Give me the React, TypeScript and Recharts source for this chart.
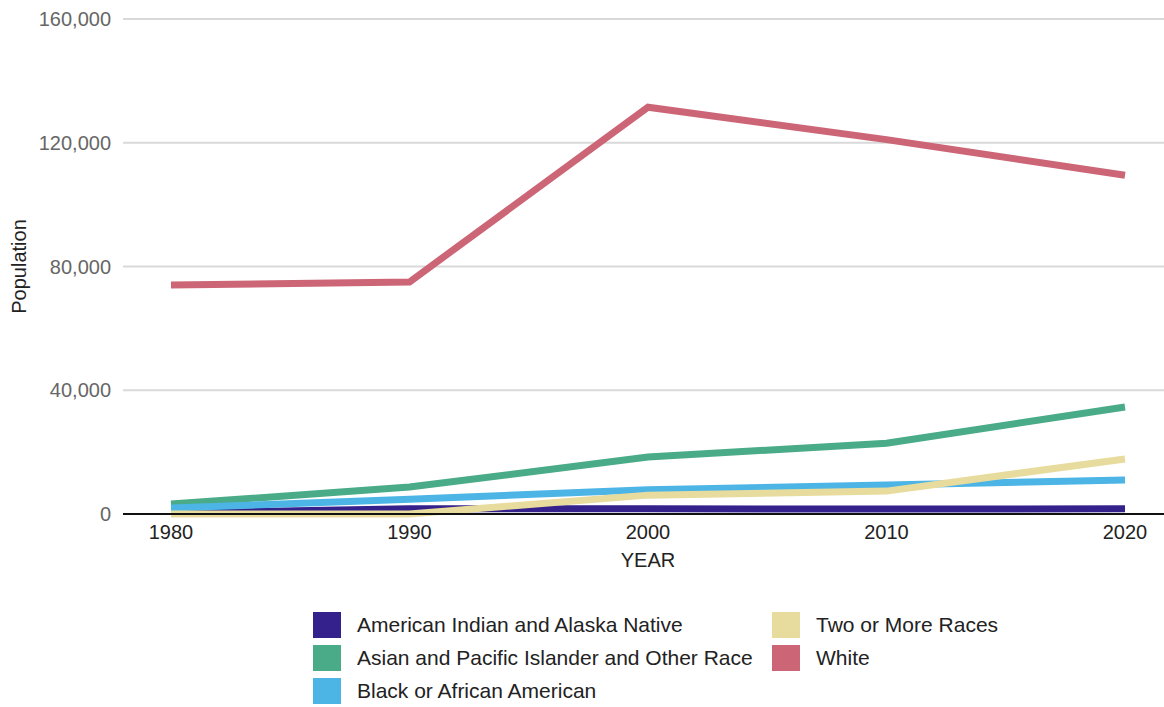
import { LineChart, Line, XAxis, YAxis, CartesianGrid } from 'recharts'

const years = ['1980', '1990', '2000', '2010', '2020']
const americanIndian = [300, 1700, 1700, 1600, 1700]
const asianPacific = [3200, 8700, 18400, 22900, 34600]
const black = [1900, 4800, 7800, 9400, 11000]
const twoOrMore = [0, 0, 6100, 7400, 17800]
const white = [74000, 75000, 131500, 121000, 109500]
const yTicks = [0, 40000, 80000, 120000, 160000]

const series = [
  { key: 'aian', name: 'American Indian and Alaska Native', color: '#35218b', values: americanIndian },
  { key: 'asian', name: 'Asian and Pacific Islander and Other Race', color: '#49ab87', values: asianPacific },
  { key: 'black', name: 'Black or African American', color: '#4cb5e6', values: black },
  { key: 'two', name: 'Two or More Races', color: '#e7dc9d', values: twoOrMore },
  { key: 'white', name: 'White', color: '#cc6677', values: white },
]

const data = years.map((year, i) => {
  const row: Record<string, string | number> = { year }
  series.forEach((s) => (row[s.key] = s.values[i]))
  return row
})

const font = '"Liberation Sans", Arial, sans-serif'

const YTitle = (props: any) => {
  const vb = props.viewBox || {}
  const cy = (vb.y ?? 19) + (vb.height ?? 495) / 2
  return (
    <text x={19} y={cy} transform={`rotate(-90, 19, ${cy})`} textAnchor="middle"
      dominantBaseline="central" fill="#222" fontSize={20} fontFamily={font}>
      Population
    </text>
  )
}

const XTitle = (props: any) => {
  const vb = props.viewBox || {}
  const cx = (vb.x ?? 123) + 48 + ((vb.width ?? 1041) - 87) / 2
  return (
    <text x={cx} y={560} textAnchor="middle" dominantBaseline="central"
      fill="#222" fontSize={20} fontFamily={font}>
      YEAR
    </text>
  )
}

export default function App() {
  return (
    <div style={{ position: 'absolute', left: 0, top: 0, width: 1164, height: 707, background: '#fff' }}>
      <LineChart width={1164} height={707} data={data} margin={{ top: 19, right: 0, bottom: 133, left: 0 }}>
        <CartesianGrid vertical={false} stroke="#d9d9d9" strokeWidth={2} />
        <XAxis dataKey="year" height={60} padding={{ left: 48, right: 39 }}
          axisLine={{ stroke: '#111', strokeWidth: 2 }} tickLine={false} tickMargin={5}
          tick={{ fill: '#222', fontSize: 20, fontFamily: font }} label={<XTitle />} />
        <YAxis width={123} domain={[0, 160000]} ticks={yTicks} axisLine={false} tickLine={false}
          tickMargin={6} tickFormatter={(v: number) => v.toLocaleString('en-US')}
          tick={{ fill: '#666', fontSize: 20, fontFamily: font }} label={<YTitle />} />
        {series.map((s) => (
          <Line key={s.key} type="linear" dataKey={s.key} name={s.name} stroke={s.color}
            strokeWidth={7} dot={false} activeDot={false} isAnimationActive={false} />
        ))}
      </LineChart>
      {series.map((s, i) => {
        const col = Math.floor(i / 3)
        const row = i % 3
        return (
          <div key={s.key} style={{ position: 'absolute', left: col ? 772 : 313, top: 612 + row * 33,
            display: 'flex', alignItems: 'center', height: 26, fontFamily: font, fontSize: 21, color: '#222' }}>
            <span style={{ display: 'inline-block', width: 28, height: 26, background: s.color, marginRight: 16 }} />
            <span>{s.name}</span>
          </div>
        )
      })}
    </div>
  )
}
